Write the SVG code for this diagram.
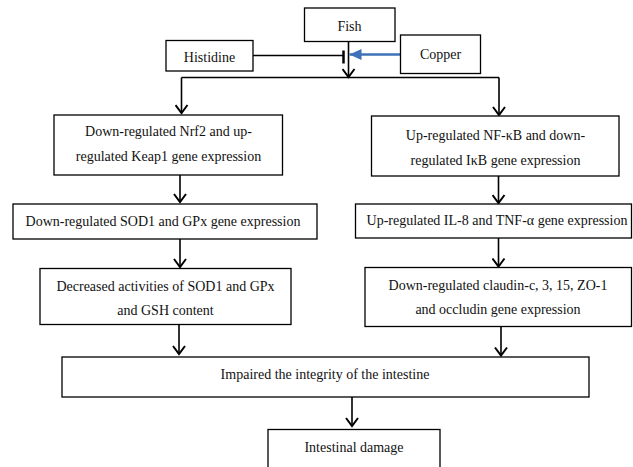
<svg xmlns="http://www.w3.org/2000/svg" width="633" height="467" viewBox="0 0 633 467">
<defs>
<style>
.box{fill:#fff;stroke:#000;stroke-width:1.3}
.t{font-family:'Liberation Serif','Tinos','Times New Roman','DejaVu Serif',serif;font-size:14px;fill:#111;text-anchor:middle}
.c{fill:none;stroke:#000;stroke-width:1.6}
.blue{fill:none;stroke:#3d72b8;stroke-width:2.6}
</style>
<marker id="ah" markerWidth="14" markerHeight="14" refX="12" refY="7" orient="auto" markerUnits="userSpaceOnUse" viewBox="0 0 14 14">
<path d="M4,1 L12,7 L4,13" fill="none" stroke="#000" stroke-width="2"/>
</marker>
<marker id="bh" markerWidth="14" markerHeight="14" refX="13" refY="7" orient="auto" markerUnits="userSpaceOnUse" viewBox="0 0 14 14">
<path d="M1,1.5 L13,7 L1,12.5 Z" fill="#3d72b8"/>
</marker>
</defs>
<rect width="633" height="467" fill="#fff"/>
<g id="connectors">
<path class="c" d="M348.5,41 V77" marker-end="url(#ah)"/>
<path class="c" d="M181.5,77.5 H499"/>
<path class="c" d="M181.5,77.5 V113" marker-end="url(#ah)"/>
<path class="c" d="M499,77.5 V115" marker-end="url(#ah)"/>
<path class="c" d="M253,55.5 H343.5"/>
<path d="M343.5,50.5 V63.5" stroke="#000" stroke-width="2.5"/>
<path class="blue" d="M400,54.5 H349.5" marker-end="url(#bh)"/>
<path class="c" d="M180,175 V202" marker-end="url(#ah)"/>
<path class="c" d="M180,239 V267" marker-end="url(#ah)"/>
<path class="c" d="M498.5,176 V203" marker-end="url(#ah)"/>
<path class="c" d="M498.5,238 V266.5" marker-end="url(#ah)"/>
<path class="c" d="M179,324.5 V354" marker-end="url(#ah)"/>
<path class="c" d="M501,326.5 V355.5" marker-end="url(#ah)"/>
<path class="c" d="M352,397 V426" marker-end="url(#ah)"/>
</g>
<g id="fish"><rect class="box" x="304.5" y="8" width="90.5" height="33.5"/><text class="t" x="349.5" y="31">Fish</text></g>
<g id="histidine"><rect class="box" x="166" y="40.5" width="87" height="30.5"/><text class="t" x="209.5" y="62">Histidine</text></g>
<g id="copper"><rect class="box" x="400.5" y="35" width="80" height="38.5"/><text class="t" x="440.5" y="59">Copper</text></g>
<g id="nrf2"><rect class="box" x="54" y="115" width="228.5" height="60"/><text class="t" x="168.5" y="136">Down-regulated Nrf2 and up-</text><text class="t" x="168.5" y="161">regulated Keap1 gene expression</text></g>
<g id="sod"><rect class="box" x="13" y="204" width="304" height="35"/><text class="t" x="163" y="226">Down-regulated SOD1 and GPx gene expression</text></g>
<g id="decreased"><rect class="box" x="40" y="268.5" width="251" height="56"/><text class="t" x="165.5" y="291">Decreased activities of SOD1 and GPx</text><text class="t" x="165.5" y="315">and GSH content</text></g>
<g id="nfkb"><rect class="box" x="371.5" y="116" width="247.5" height="60"/><text class="t" x="495.5" y="140">Up-regulated NF-κB  and down-</text><text class="t" x="495.5" y="165">regulated IκB  gene expression</text></g>
<g id="il8"><rect class="box" x="355.5" y="204" width="276" height="34"/><text class="t" x="497" y="225">Up-regulated IL-8 and TNF-α gene expression</text></g>
<g id="claudin"><rect class="box" x="365" y="267.5" width="266.5" height="59"/><text class="t" x="498" y="290">Down-regulated claudin-c, 3, 15, ZO-1</text><text class="t" x="498" y="314">and occludin gene expression</text></g>
<g id="impaired"><rect class="box" x="62" y="357" width="527" height="40"/><text class="t" x="325" y="379">Impaired the integrity of the intestine</text></g>
<g id="damage"><rect class="box" x="268" y="429.5" width="172" height="45"/><text class="t" x="354" y="452">Intestinal damage</text></g>
</svg>
